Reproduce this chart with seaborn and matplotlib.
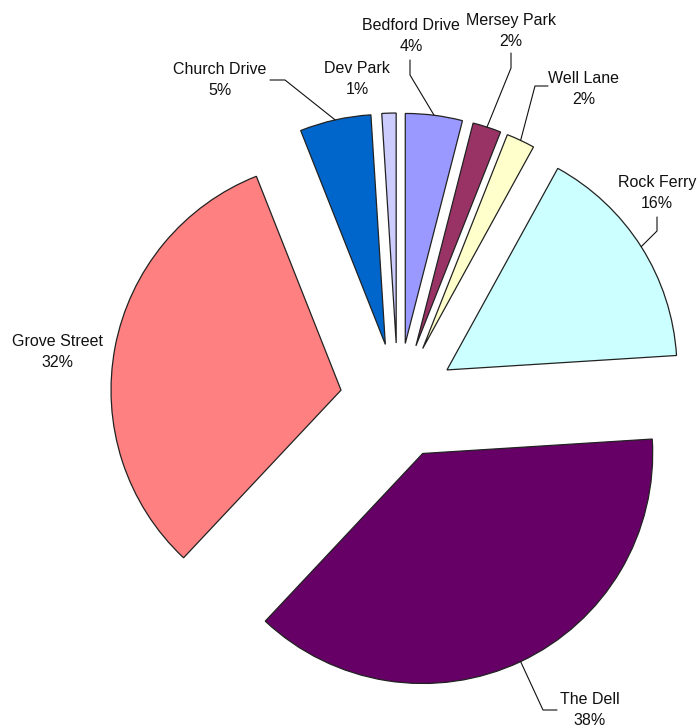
import matplotlib
matplotlib.use("Agg")
import matplotlib.pyplot as plt
import seaborn as sns
import numpy as np

# slices in clockwise order starting at 12 o'clock
areas = ["Bedford Drive", "Mersey Park", "Well Lane", "Rock Ferry",
         "The Dell", "Grove Street", "Church Drive", "Dev Park"]
shares = [4, 2, 2, 16, 38, 32, 5, 1]
colours = ["#9999FF", "#993366", "#FFFFCC", "#CCFFFF",
           "#660066", "#FF8080", "#0066CC", "#CCCCFF"]

sns.set_style("white")
plt.rcParams['font.family'] = ['Liberation Sans', 'DejaVu Sans']

fig = plt.figure(figsize=(6.97, 7.27), dpi=100)
ax = fig.add_axes([0, 0, 1, 1])

# work in pixel units, y pointing down like the picture
wedges, _ = ax.pie(shares, colors=colours, radius=230, center=(398, 401),
                   explode=[58] * len(shares), startangle=-90, counterclock=True,
                   wedgeprops=dict(edgecolor="#222222", linewidth=0.9))
ax.set_xlim(0, 697)
ax.set_ylim(727, 0)
ax.set_aspect('equal')
ax.axis('off')

# label block centres and leader elbows (pixel layout)
label_pos = {
    "Bedford Drive": (411, 36), "Mersey Park": (511, 31), "Well Lane": (584, 89),
    "Rock Ferry": (657, 193), "The Dell": (590, 710), "Grove Street": (57, 352),
    "Church Drive": (220, 80), "Dev Park": (357, 79),
}
leaders = {
    "Bedford Drive": [(410, 75), (410, 60)],
    "Mersey Park": [(511, 68), (511, 53)],
    "Well Lane": [(535, 86), (548, 86)],
    "Rock Ferry": [(657, 231), (657, 217)],
    "The Dell": [(543, 710), (557, 710)],
    "Church Drive": [(285, 80), (270, 80)],
}

total = sum(shares)
for w, name, v in zip(wedges, areas, shares):
    x, y = label_pos[name]
    ax.text(x, y, f"{name}\n{v / total * 100:.0f}%", ha='center', va='center',
            fontsize=11.5, color='#111111', linespacing=1.55)
    if name in leaders:
        mid = np.deg2rad((w.theta1 + w.theta2) / 2)
        cx, cy = w.center
        pts = [(cx + w.r * np.cos(mid), cy + w.r * np.sin(mid))] + leaders[name]
        xs, ys = zip(*pts)
        ax.plot(xs, ys, color='#111111', linewidth=0.8)

plt.savefig('out.png', dpi=100)
